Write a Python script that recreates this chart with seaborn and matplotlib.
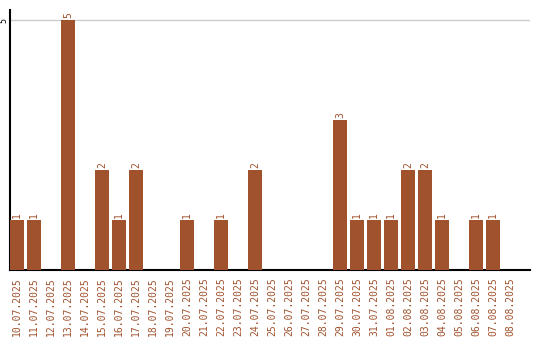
import matplotlib
matplotlib.use("Agg")
import matplotlib.pyplot as plt
import seaborn as sns
import pandas as pd

dates = [
    "10.07.2025", "11.07.2025", "12.07.2025", "13.07.2025", "14.07.2025",
    "15.07.2025", "16.07.2025", "17.07.2025", "18.07.2025", "19.07.2025",
    "20.07.2025", "21.07.2025", "22.07.2025", "23.07.2025", "24.07.2025",
    "25.07.2025", "26.07.2025", "27.07.2025", "28.07.2025", "29.07.2025",
    "30.07.2025", "31.07.2025", "01.08.2025", "02.08.2025", "03.08.2025",
    "04.08.2025", "05.08.2025", "06.08.2025", "07.08.2025", "08.08.2025",
]
counts = [1, 1, 0, 5, 0, 2, 1, 2, 0, 0,
          1, 0, 1, 0, 2, 0, 0, 0, 0, 3,
          1, 1, 1, 2, 2, 1, 0, 1, 1, 0]

bar_color = "#A0522D"
df = pd.DataFrame({"date": dates, "count": counts})

sns.set_style("white")
plt.rcParams["font.family"] = ["DejaVu Sans Mono", "DejaVu Sans"]

fig = plt.figure(figsize=(5.4, 3.4), dpi=100)
ax = fig.add_axes([10 / 540, 70 / 340, 520 / 540, 260 / 340])

bw = 14 / 17
sns.barplot(data=df, x="date", y="count", color=bar_color, saturation=1,
            width=bw, ax=ax, zorder=3, linewidth=0, edgecolor="none")

ax.set_xlim(-bw / 2, -bw / 2 + 520 / 17)
ax.set_ylim(0, 5.2)
ax.set_yticks([5])
ax.set_yticklabels(["5"], rotation=90, va="center", fontsize=6, color="black")
ax.tick_params(axis="y", length=0, pad=1)
ax.axhline(5, color="#cccccc", lw=1, zorder=1)

ax.set_xticks(range(len(dates)))
ax.set_xticklabels(dates, rotation=90, fontsize=7, color=bar_color)
ax.tick_params(axis="x", length=0, pad=5)
ax.set_xlabel("")
ax.set_ylabel("")

for side in ("top", "right"):
    ax.spines[side].set_visible(False)
for side in ("left", "bottom"):
    ax.spines[side].set_color("black")
    ax.spines[side].set_linewidth(1.5)

for i, v in enumerate(counts):
    if v > 0:
        ax.annotate(str(v), (i, v), xytext=(0, 1.5), textcoords="offset points",
                    rotation=90, ha="center", va="bottom", fontsize=7,
                    color=bar_color)

fig.savefig("out.png", dpi=100)
